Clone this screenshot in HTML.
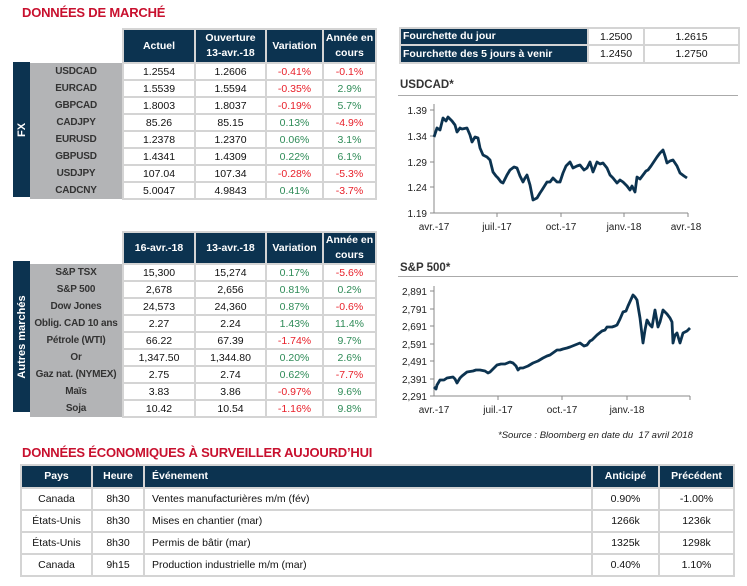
<!DOCTYPE html>
<html><head><meta charset="utf-8"><style>
*{margin:0;padding:0;box-sizing:border-box}
body{width:747px;height:586px;background:#fff;position:relative;overflow:hidden;font-family:"Liberation Sans",Arial,sans-serif;font-size:10.5px;color:#111}
.a{position:absolute}
.t{color:#c8102e;font-weight:bold;font-size:13px;letter-spacing:-0.2px}
table{border-collapse:collapse;position:absolute;table-layout:fixed}
td{border:2px solid #d4d4d4;text-align:center;padding:0;white-space:nowrap;overflow:hidden}
th{background:#0c3350;color:#fff;font-weight:bold;border:2px solid #d4d4d4;text-align:center;line-height:15px;font-size:10.5px}
td.l{background:#b3b4b6;border:none;font-weight:bold;color:#333;font-size:10px;letter-spacing:-0.2px}
.r{color:#e8202a}.g{color:#2e8b57}
.strip{position:absolute;background:#0c3350;color:#fff;font-weight:bold;font-size:11px}
.strip span{position:absolute;left:50%;top:50%;transform:translate(-50%,-50%) rotate(-90deg);white-space:nowrap}
svg text{font-family:"Liberation Sans",Arial,sans-serif;font-size:10px;fill:#222}
</style></head><body>
<div class="a t" style="left:22px;top:5px">DONNÉES DE MARCHÉ</div>

<div class="strip" style="left:13px;top:62px;width:17px;height:135px"><span>FX</span></div>
<table style="left:30px;top:28px;width:346px">
<colgroup><col style="width:93px"><col style="width:72px"><col style="width:71px"><col style="width:57px"><col style="width:53px"></colgroup>
<tr style="height:34px"><th style="background:#fff;border:none"></th><th>Actuel</th><th>Ouverture<br>13-avr.-18</th><th>Variation</th><th>Année en<br>cours</th></tr>
<tr style="height:17px"><td class="l">USDCAD</td><td>1.2554</td><td>1.2606</td><td class="r">-0.41%</td><td class="r">-0.1%</td></tr>
<tr style="height:17px"><td class="l">EURCAD</td><td>1.5539</td><td>1.5594</td><td class="r">-0.35%</td><td class="g">2.9%</td></tr>
<tr style="height:17px"><td class="l">GBPCAD</td><td>1.8003</td><td>1.8037</td><td class="r">-0.19%</td><td class="g">5.7%</td></tr>
<tr style="height:17px"><td class="l">CADJPY</td><td>85.26</td><td>85.15</td><td class="g">0.13%</td><td class="r">-4.9%</td></tr>
<tr style="height:17px"><td class="l">EURUSD</td><td>1.2378</td><td>1.2370</td><td class="g">0.06%</td><td class="g">3.1%</td></tr>
<tr style="height:17px"><td class="l">GBPUSD</td><td>1.4341</td><td>1.4309</td><td class="g">0.22%</td><td class="g">6.1%</td></tr>
<tr style="height:17px"><td class="l">USDJPY</td><td>107.04</td><td>107.34</td><td class="r">-0.28%</td><td class="r">-5.3%</td></tr>
<tr style="height:17px"><td class="l">CADCNY</td><td>5.0047</td><td>4.9843</td><td class="g">0.41%</td><td class="r">-3.7%</td></tr>
</table>

<div class="strip" style="left:13px;top:261px;width:17px;height:151px"><span>Autres marchés</span></div>
<table style="left:30px;top:231px;width:346px">
<colgroup><col style="width:93px"><col style="width:72px"><col style="width:71px"><col style="width:57px"><col style="width:53px"></colgroup>
<tr style="height:30px"><th style="background:#fff;border:none"></th><th>16-avr.-18</th><th>13-avr.-18</th><th>Variation</th><th>Année en<br>cours</th></tr>
<tr style="height:17px"><td class="l">S&amp;P TSX</td><td>15,300</td><td>15,274</td><td class="g">0.17%</td><td class="r">-5.6%</td></tr>
<tr style="height:17px"><td class="l">S&amp;P 500</td><td>2,678</td><td>2,656</td><td class="g">0.81%</td><td class="g">0.2%</td></tr>
<tr style="height:17px"><td class="l">Dow Jones</td><td>24,573</td><td>24,360</td><td class="g">0.87%</td><td class="r">-0.6%</td></tr>
<tr style="height:17px"><td class="l">Oblig. CAD 10 ans</td><td>2.27</td><td>2.24</td><td class="g">1.43%</td><td class="g">11.4%</td></tr>
<tr style="height:17px"><td class="l">Pétrole (WTI)</td><td>66.22</td><td>67.39</td><td class="r">-1.74%</td><td class="g">9.7%</td></tr>
<tr style="height:17px"><td class="l">Or</td><td>1,347.50</td><td>1,344.80</td><td class="g">0.20%</td><td class="g">2.6%</td></tr>
<tr style="height:17px"><td class="l">Gaz nat. (NYMEX)</td><td>2.75</td><td>2.74</td><td class="g">0.62%</td><td class="r">-7.7%</td></tr>
<tr style="height:17px"><td class="l">Maïs</td><td>3.83</td><td>3.86</td><td class="r">-0.97%</td><td class="g">9.6%</td></tr>
<tr style="height:17px"><td class="l">Soja</td><td>10.42</td><td>10.54</td><td class="r">-1.16%</td><td class="g">9.8%</td></tr>
</table>

<table style="left:399px;top:27px;width:339px">
<colgroup><col style="width:188px"><col style="width:56px"><col style="width:95px"></colgroup>
<tr style="height:17px"><th style="text-align:left;padding-left:2px">Fourchette du jour</th><td>1.2500</td><td>1.2615</td></tr>
<tr style="height:18px"><th style="text-align:left;padding-left:2px">Fourchette des 5 jours à venir</th><td>1.2450</td><td>1.2750</td></tr>
</table>

<div class="a" style="left:400px;top:79px;font-weight:bold;font-size:11.5px;color:#333">USDCAD*</div>
<div class="a" style="left:398px;top:95px;width:340px;height:1px;background:#aaa"></div>
<div class="a" style="left:400px;top:262px;font-weight:bold;font-size:11.5px;color:#333">S&amp;P 500*</div>
<div class="a" style="left:398px;top:276px;width:340px;height:1px;background:#aaa"></div>

<svg class="a" style="left:0;top:0" width="747" height="586">
<g stroke="#888" stroke-width="1">
<line x1="434" y1="104" x2="434" y2="213"/><line x1="434" y1="213" x2="688" y2="213"/>
<line x1="430" y1="110" x2="434" y2="110"/><line x1="430" y1="136" x2="434" y2="136"/><line x1="430" y1="162" x2="434" y2="162"/><line x1="430" y1="187" x2="434" y2="187"/><line x1="430" y1="213" x2="434" y2="213"/>
<line x1="497" y1="213" x2="497" y2="217"/><line x1="561" y1="213" x2="561" y2="217"/><line x1="624" y1="213" x2="624" y2="217"/><line x1="688" y1="213" x2="688" y2="217"/>
<line x1="434" y1="286" x2="434" y2="396"/><line x1="434" y1="396" x2="690" y2="396"/>
<line x1="430" y1="291" x2="434" y2="291"/><line x1="430" y1="309" x2="434" y2="309"/><line x1="430" y1="326" x2="434" y2="326"/><line x1="430" y1="344" x2="434" y2="344"/><line x1="430" y1="361" x2="434" y2="361"/><line x1="430" y1="379" x2="434" y2="379"/><line x1="430" y1="396" x2="434" y2="396"/>
<line x1="498" y1="396" x2="498" y2="400"/><line x1="562" y1="396" x2="562" y2="400"/><line x1="627" y1="396" x2="627" y2="400"/><line x1="690" y1="396" x2="690" y2="400"/>
</g>
<g text-anchor="end">
<text x="427" y="114">1.39</text><text x="427" y="140">1.34</text><text x="427" y="166">1.29</text><text x="427" y="191">1.24</text><text x="427" y="217">1.19</text>
<text x="427" y="295">2,891</text><text x="427" y="313">2,791</text><text x="427" y="330">2,691</text><text x="427" y="348">2,591</text><text x="427" y="365">2,491</text><text x="427" y="383">2,391</text><text x="427" y="400">2,291</text>
</g>
<g text-anchor="middle">
<text x="434" y="230">avr.-17</text><text x="497" y="230">juil.-17</text><text x="561" y="230">oct.-17</text><text x="624" y="230">janv.-18</text><text x="686" y="230">avr.-18</text>
<text x="434" y="413">avr.-17</text><text x="498" y="413">juil.-17</text><text x="562" y="413">oct.-17</text><text x="627" y="413">janv.-18</text>
</g>
<polyline fill="none" stroke="#0c3350" stroke-width="2.8" stroke-linejoin="round" points="434,137 437,128 440,130 443,118 446,121 448,117 452,121 455,125 457,132 460,128 462,129 467,128 470,135 472,142 475,137 478,138 480,148 483,155 487,157 490,160 493,172 496,176 498,178 501,182 503,183 507,175 510,170 514,167 517,168 520,176 523,182 525,178 527,175 530,185 533,200 537,198 540,193 542,190 547,182 550,182 553,178 557,182 560,182 563,173 566,166 570,162 573,168 577,166 580,165 584,170 587,168 590,162 593,172 597,162 600,164 603,163 607,168 610,175 613,178 617,183 620,180 623,182 627,186 630,190 632,186 635,192 637,177 640,179 643,175 646,171 648,170 651,166 653,163 657,157 660,153 663,150 665,156 667,163 670,161 673,160 677,166 680,173 684,176 687,178"/>
<polyline fill="none" stroke="#0c3350" stroke-width="2.8" stroke-linejoin="round" points="434,387 436,389 437,385 440,380 444,380 447,378 453,377 455,379 457,383 460,378 462,376 467,372 473,371 476,370 480,370 485,371 488,373 490,372 493,369 497,365 501,364 505,364 510,362 513,363 516,366 518,370 520,368 523,368 528,366 533,363 538,361 543,358 547,356 550,355 557,350 560,350 563,349 567,348 570,347 575,345 580,343 584,346 587,345 590,341 592,340 597,335 602,331 605,330 607,327 612,327 615,326 617,325 620,319 623,312 626,311 628,306 633,295 635,297 637,300 640,318 643,343 645,330 647,320 650,325 652,327 655,310 658,327 660,322 663,310 667,314 670,318 672,322 673,343 675,335 677,333 680,343 683,333 687,331 690,328"/>
</svg>

<div class="a" style="left:498px;top:430px;font-style:italic;font-size:9.5px;color:#222">*Source : Bloomberg en date du&nbsp; 17 avril 2018</div>
<div class="a t" style="left:22px;top:445px">DONNÉES ÉCONOMIQUES À SURVEILLER AUJOURD’HUI</div>
<table style="left:20px;top:464px;width:713px">
<colgroup><col style="width:71px"><col style="width:52px"><col style="width:448px"><col style="width:67px"><col style="width:75px"></colgroup>
<tr style="height:23px"><th>Pays</th><th>Heure</th><th style="text-align:left;padding-left:7px">Événement</th><th>Anticipé</th><th>Précédent</th></tr>
<tr style="height:22px"><td>Canada</td><td>8h30</td><td style="text-align:left;padding-left:7px">Ventes manufacturières m/m (fév)</td><td>0.90%</td><td>-1.00%</td></tr>
<tr style="height:22px"><td>États-Unis</td><td>8h30</td><td style="text-align:left;padding-left:7px">Mises en chantier (mar)</td><td>1266k</td><td>1236k</td></tr>
<tr style="height:22px"><td>États-Unis</td><td>8h30</td><td style="text-align:left;padding-left:7px">Permis de bâtir (mar)</td><td>1325k</td><td>1298k</td></tr>
<tr style="height:22px"><td>Canada</td><td>9h15</td><td style="text-align:left;padding-left:7px">Production industrielle m/m (mar)</td><td>0.40%</td><td>1.10%</td></tr>
</table>
</body></html>
